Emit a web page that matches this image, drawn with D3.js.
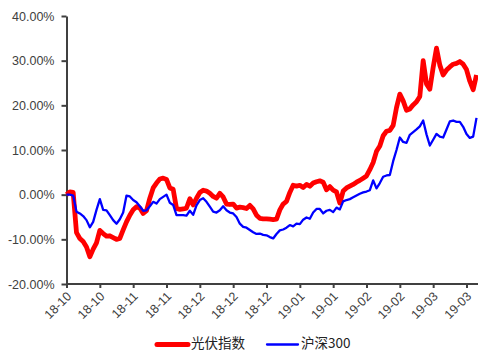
<!DOCTYPE html>
<html>
<head>
<meta charset="utf-8">
<script src="https://cdn.jsdelivr.net/npm/d3@7"></script>
<style>
  html, body { margin: 0; padding: 0; background: #fff; }
  svg { display: block; }
  .axis text { font-family: "Liberation Sans", Arial, sans-serif; font-size: 12.5px; fill: #404040; }
  .legend text { font-family: "Noto Sans CJK SC", sans-serif; font-size: 13.5px; fill: #222; }
</style>
</head>
<body>
<svg id="chart" width="478" height="352"></svg>
<script>
// Tick labels along the category axis (one every 10 trading days)
const tickLabels = ["18-10", "18-10", "18-11", "18-11", "18-12", "18-12", "18-12",
                    "19-01", "19-01", "19-02", "19-02", "19-03", "19-03"];

// Cumulative return, %, per trading day
const pvIndex = [
  0, 0.6, 0.5, -8.5, -9.8, -10.5, -11.7, -13.9, -12.2, -10.8,
  -8.0, -8.7, -9.3, -9.2, -9.6, -10.0, -9.8, -7.9, -6.1, -4.6,
  -3.4, -2.7, -3.0, -4.2, -3.6, -0.8, 1.5, 2.6, 3.5, 3.7,
  3.4, 1.5, 1.2, -3.1, -3.3, -3.2, -3.0, -0.9, -2.3, -0.8,
  0.5, 1.0, 0.8, 0.3, -0.4, -0.8, 0.3, -0.5, -2.1, -2.2,
  -2.1, -3.0, -2.8, -2.9, -3.1, -2.4, -3.2, -4.6, -5.3, -5.4,
  -5.4, -5.5, -5.6, -5.5, -3.4, -2.1, -1.5, 0.5, 2.1, 1.9,
  2.1, 1.6, 2.3, 1.9, 2.6, 2.9, 3.1, 2.8, 1.1, 1.8,
  1.0, 0.6, -1.9, 0.8, 1.5, 1.9, 2.3, 2.8, 3.2, 3.7,
  4.2, 5.6, 7.2, 9.7, 10.9, 13.2, 14.2, 14.4, 15.5, 19.5,
  22.5, 21.0, 18.9, 19.2, 20.1, 20.8, 22.0, 30.0, 24.8, 23.6,
  28.5, 32.8, 29.0, 26.8, 27.9, 28.6, 29.2, 29.4, 29.8, 29.2,
  28.0, 25.4, 23.5, 26.8
];

const hs300 = [
  0, 0, -0.2, -3.8, -4.2, -4.8, -5.7, -7.3, -6.1, -3.4,
  -1.0, -3.4, -3.5, -4.6, -5.7, -6.5, -5.5, -4.0, -0.2, -0.4,
  -1.2, -1.7, -2.6, -3.6, -3.5, -2.6, -1.6, -2.0, -1.0, -0.5,
  0, -1.8, -2.3, -4.6, -4.6, -4.6, -4.7, -3.6, -4.5, -2.4,
  -1.2, -0.8, -1.6, -2.7, -3.8, -4.0, -3.5, -2.6, -3.5, -4.0,
  -4.2, -5.0, -6.5, -7.2, -7.4, -7.9, -8.4, -8.8, -8.7, -9.0,
  -9.1, -9.5, -9.8, -8.8, -8.0, -7.8, -7.4, -6.8, -7.1, -6.5,
  -6.6, -5.6, -5.1, -5.4, -4.0, -3.2, -3.2, -4.2, -3.6, -3.4,
  -3.9, -2.9, -3.3, -1.5, -1.2, -1.0, -0.6, -0.2, 0.2, 0.5,
  0.7, 1.0, 3.2, 1.4, 2.6, 4.0, 4.3, 4.4, 7.5, 10.0,
  12.8, 11.8, 11.6, 13.4, 14.0, 14.6, 15.3, 16.6, 13.5, 11.0,
  12.3, 13.6, 13.0, 12.8, 14.6, 16.4, 16.6, 16.3, 16.3, 15.2,
  13.6, 12.7, 13.0, 17.2
];

const seriesNames = ["光伏指数", "沪深300"];
const yTicks = [-20, -10, 0, 10, 20, 30, 40];

const svg = d3.select("#chart");
const axisColor = "#404040";

const x = d3.scaleLinear().domain([0, pvIndex.length - 1]).range([66.5, 476.5]);
const y = d3.scaleLinear().domain([-20, 40]).range([284, 16]);

// Y axis
const yAxis = svg.append("g")
  .attr("class", "axis")
  .attr("transform", `translate(${x(0)},0)`)
  .call(d3.axisLeft(y).tickValues(yTicks).tickSize(5).tickSizeOuter(0).tickPadding(7)
    .tickFormat(d => d.toFixed(2) + "%"));
yAxis.selectAll("path, line").attr("stroke", axisColor).attr("stroke-width", 2);

// X axis
const xTicks = tickLabels.map((_, i) => i * 10);
const xAxis = svg.append("g")
  .attr("class", "axis")
  .attr("transform", `translate(0,${y(-20)})`)
  .call(d3.axisBottom(x).tickValues(xTicks).tickSize(4).tickSizeOuter(0)
    .tickFormat((d, i) => tickLabels[i]));
xAxis.select(".domain").attr("d", `M${x(0)},0H478`);
xAxis.selectAll("path, line").attr("stroke", axisColor).attr("stroke-width", 2);
xAxis.selectAll("text")
  .attr("y", 0).attr("dy", "0.35em")
  .attr("text-anchor", "end")
  .attr("transform", "translate(2,10) rotate(-45)");

// Lines
const line = d3.line().x((d, i) => x(i)).y(d => y(d)).curve(d3.curveLinear);

svg.append("path")
  .datum(pvIndex)
  .attr("fill", "none")
  .attr("stroke", "#ff0000")
  .attr("stroke-width", 4.8)
  .attr("stroke-linejoin", "round")
  .attr("d", line);

svg.append("path")
  .datum(hs300)
  .attr("fill", "none")
  .attr("stroke", "#0000ff")
  .attr("stroke-width", 2.3)
  .attr("stroke-linejoin", "round")
  .attr("d", line);

// Legend
const legendY = 343;
const legend = svg.append("g").attr("class", "legend");
const items = [
  { name: seriesNames[0], color: "#ff0000", width: 5, x0: 157 },
  { name: seriesNames[1], color: "#0000ff", width: 2.3, x0: 267 }
];
items.forEach(it => {
  legend.append("line")
    .attr("x1", it.x0).attr("x2", it.x0 + 31)
    .attr("y1", legendY + 1.5).attr("y2", legendY + 1.5)
    .attr("stroke", it.color).attr("stroke-width", it.width)
    .attr("stroke-linecap", "round");
  legend.append("text")
    .attr("x", it.x0 + 34).attr("y", legendY).attr("dy", "0.35em")
    .text(it.name);
});
</script>
</body>
</html>
